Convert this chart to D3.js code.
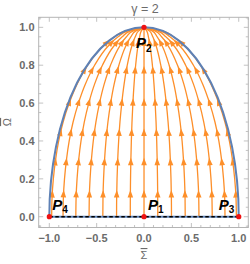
<!DOCTYPE html>
<html>
<head>
<meta charset="utf-8">
<script src="https://cdn.jsdelivr.net/npm/d3@7"></script>
<style>
  body { margin: 0; background: #fff; }
  text { font-family: "Liberation Sans", Arial, sans-serif; }
</style>
</head>
<body>
<script>
// starting sigma of each stream line
const sigmaStart = [-0.975, -0.855, -0.72, -0.58, -0.435, -0.29, -0.145, 0, 0.145, 0.29, 0.435, 0.58, 0.72, 0.855, 0.975];
// common shape of the stream lines: sigma / sigmaStart at each omega
const omegaLevels = [0, 0.1, 0.2, 0.3, 0.4, 0.5, 0.6, 0.7, 0.8, 0.9, 0.95, 0.98, 1];
const shapeRatio  = [1, 0.996, 0.982, 0.958, 0.924, 0.876, 0.81, 0.725, 0.61, 0.445, 0.32, 0.205, 0];
// omega at which arrow heads sit
const arrowOmega = [0.12, 0.29, 0.445, 0.605, 0.775, 0.92];
// fixed points
const points = [
  {name: 'P', sub: '1', s: 0, o: 0, dx: 4, dy: -7},
  {name: 'P', sub: '2', s: 0, o: 1, dx: -8, dy: 21},
  {name: 'P', sub: '3', s: 1, o: 0, dx: -20, dy: -7},
  {name: 'P', sub: '4', s: -1, o: 0, dx: 3, dy: -7}
];
const xTicks = [-1, -0.5, 0, 0.5, 1];
const yTicks = [0, 0.2, 0.4, 0.6, 0.8, 1];
const xMinor = d3.range(-11, 12).map(d => d / 10);
const yMinor = d3.range(-1, 22).map(d => d / 20);

const width = 250, height = 264;
const frame = {left: 38.7, right: 248.3, top: 17.3, bottom: 227.5};

const svg = d3.select('body').append('svg')
    .attr('width', width)
    .attr('height', height);

const x = d3.scaleLinear().domain([-1.112, 1.101]).range([frame.left, frame.right]);
const y = d3.scaleLinear().domain([-0.057, 1.053]).range([frame.bottom, frame.top]);

const orange = '#fd8f2a';
const blue = '#5e81b5';

// stream lines
const line = d3.line()
    .x(d => x(d[0]))
    .y(d => y(d[1]))
    .curve(d3.curveMonotoneY);

const streams = svg.append('g').attr('class', 'streams');

sigmaStart.forEach(s0 => {
  const pts = omegaLevels.map((o, i) => [s0 * shapeRatio[i], o]);
  const path = streams.append('path')
      .attr('d', line(pts))
      .attr('fill', 'none')
      .attr('stroke', orange)
      .attr('stroke-width', 1.3);

  const node = path.node();
  const total = node.getTotalLength();

  arrowOmega.forEach(o => {
    const ty = y(o);
    // binary search on length for the point at this height
    let lo = 0, hi = total;
    for (let k = 0; k < 30; k++) {
      const mid = (lo + hi) / 2;
      if (node.getPointAtLength(mid).y > ty) lo = mid; else hi = mid;
    }
    const l = (lo + hi) / 2;
    const p = node.getPointAtLength(l);
    const p2 = node.getPointAtLength(Math.min(total, l + 1));
    const ang = Math.atan2(p2.y - p.y, p2.x - p.x) * 180 / Math.PI;
    streams.append('path')
        .attr('d', 'M4,0 L-3.5,-2.8 L-3.5,2.8 Z')
        .attr('fill', orange)
        .attr('transform', 'translate(' + p.x + ',' + p.y + ') rotate(' + ang + ')');
  });
});

// boundary: half ellipse in pixels (unit circle in data)
const rx = x(1) - x(0), ry = y(0) - y(1);
svg.append('path')
    .attr('d', 'M' + x(-1) + ',' + y(0) + ' A' + rx + ',' + ry + ' 0 0 1 ' + x(1) + ',' + y(0) + ' Z')
    .attr('fill', 'none')
    .attr('stroke', blue)
    .attr('stroke-width', 2);

// dashed line on omega = 0
svg.append('line')
    .attr('x1', x(-1)).attr('x2', x(1))
    .attr('y1', y(0)).attr('y2', y(0))
    .attr('stroke', 'black')
    .attr('stroke-width', 1.6)
    .attr('stroke-dasharray', '3.5,2.5');

// frame
svg.append('rect')
    .attr('x', frame.left).attr('y', frame.top)
    .attr('width', frame.right - frame.left)
    .attr('height', frame.bottom - frame.top)
    .attr('fill', 'none')
    .attr('stroke', '#b4b4b4')
    .attr('stroke-width', 1);

const ticks = svg.append('g').attr('stroke', '#b4b4b4').attr('stroke-width', 0.8);

xMinor.forEach(v => {
  const major = xTicks.some(t => Math.abs(t - v) < 1e-9);
  const len = major ? 4.5 : 2.5;
  ticks.append('line').attr('x1', x(v)).attr('x2', x(v)).attr('y1', frame.bottom).attr('y2', frame.bottom - len);
  ticks.append('line').attr('x1', x(v)).attr('x2', x(v)).attr('y1', frame.top).attr('y2', frame.top + len);
});
yMinor.forEach(v => {
  if (y(v) > frame.bottom || y(v) < frame.top) return;
  const major = yTicks.some(t => Math.abs(t - v) < 1e-9);
  const len = major ? 4.5 : 2.5;
  ticks.append('line').attr('y1', y(v)).attr('y2', y(v)).attr('x1', frame.left).attr('x2', frame.left + len);
  ticks.append('line').attr('y1', y(v)).attr('y2', y(v)).attr('x1', frame.right).attr('x2', frame.right - len);
});

const tickColor = '#6b6b6b';
svg.append('g').selectAll('text')
    .data(xTicks)
    .join('text')
    .attr('x', d => x(d))
    .attr('y', 242)
    .attr('text-anchor', 'middle')
    .attr('font-size', 11)
    .attr('font-weight', 'bold')
    .attr('fill', tickColor)
    .text(d => (d < 0 ? '\u2212' : '') + Math.abs(d).toFixed(1));

svg.append('g').selectAll('text')
    .data(yTicks)
    .join('text')
    .attr('x', 34.5)
    .attr('y', d => y(d) + 4)
    .attr('text-anchor', 'end')
    .attr('font-size', 11)
    .attr('font-weight', 'bold')
    .attr('fill', tickColor)
    .text(d => d.toFixed(1));

// title and axis labels
svg.append('text')
    .attr('x', 145).attr('y', 13)
    .attr('text-anchor', 'middle')
    .attr('font-size', 12.5)
    .attr('fill', '#6b6b6b')
    .text('\u03b3 = 2');

svg.append('text')
    .attr('x', x(0)).attr('y', 259)
    .attr('text-anchor', 'middle')
    .attr('font-size', 11)
    .attr('fill', '#6b6b6b')
    .style('text-decoration', 'overline')
    .text('\u03a3');

svg.append('text')
    .attr('transform', 'translate(11,' + y(0.5) + ') rotate(-90)')
    .attr('text-anchor', 'middle')
    .attr('font-size', 11)
    .attr('fill', '#6b6b6b')
    .style('text-decoration', 'overline')
    .text('\u03a9');

// fixed points
svg.append('g').selectAll('circle')
    .data(points)
    .join('circle')
    .attr('cx', d => x(d.s))
    .attr('cy', d => y(d.o))
    .attr('r', 2.6)
    .attr('fill', '#ee1111');

const labels = svg.append('g').selectAll('text')
    .data(points)
    .join('text')
    .attr('x', d => x(d.s) + d.dx)
    .attr('y', d => y(d.o) + d.dy)
    .attr('font-size', 15)
    .attr('font-weight', 'bold')
    .attr('fill', 'black');

labels.append('tspan')
    .attr('font-style', 'italic')
    .text(d => d.name);
labels.append('tspan')
    .attr('font-size', 10)
    .attr('dy', 3.5)
    .text(d => d.sub);
</script>
</body>
</html>
